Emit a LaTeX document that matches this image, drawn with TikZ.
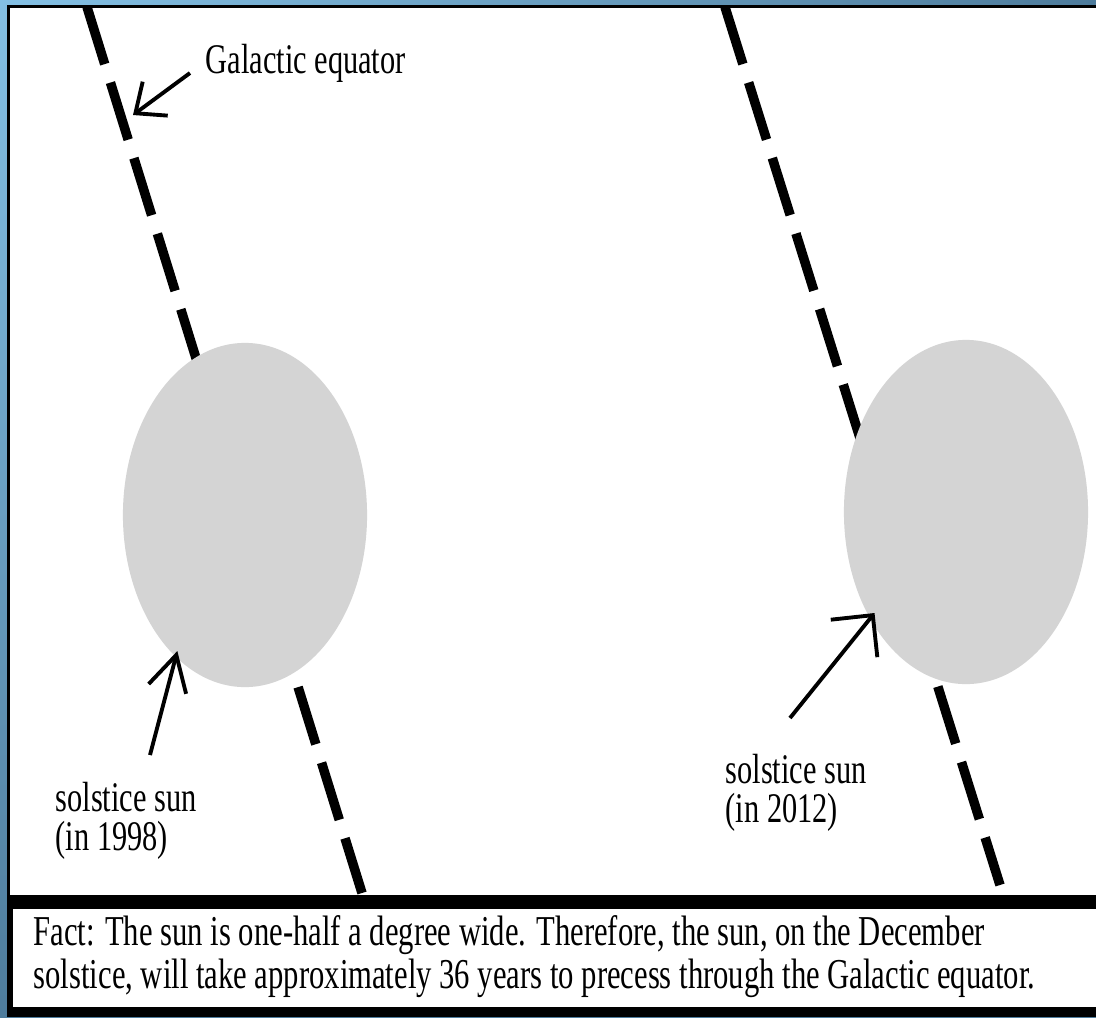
\documentclass[tikz,border=0pt]{standalone}
\usepackage{fontspec}
\setmainfont{Liberation Serif}[FakeStretch=0.72]
\usetikzlibrary{arrows.meta,shapes.geometric,shadings}

\definecolor{frameblue}{RGB}{132,192,228}
\definecolor{framedark}{RGB}{78,124,156}
\definecolor{sungray}{RGB}{212,212,212}

\begin{document}
\begin{tikzpicture}[x=0.01cm, y=-0.01cm,
		equator/.style={line width=2.7pt, dash pattern=on 17pt off 5.5pt},
		sun/.style={ellipse, fill=sungray, inner sep=0pt, outer sep=0pt, minimum width=2.44cm, minimum height=3.44cm},
		pointer/.style 2 args={line width=1.1pt, -{Straight Barb[length=#1, width=#2]}},
		sunlabel/.style={anchor=base west, inner sep=0pt, align=left, font=\fontsize{12}{11}\selectfont}]
		%%%%% START %%%%%
		
		% frame
		\shade[upper left=frameblue, upper right=framedark, lower left=framedark, lower right=framedark] (0, 0) rectangle (1096, 1017);
		\fill[black] (7, 5) rectangle (1096, 1017);
		\fill[white] (10, 8) rectangle (1096, 895);
		\fill[white] (13, 909) rectangle (1096, 1007);
		
		% galactic equator, two positions
		\coordinate (eqAtop) at (87, 7);
		\coordinate (eqAbot) at (362, 893);
		\coordinate (eqBtop) at (725, 7);
		\coordinate (eqBbot) at (1000, 885);
		\draw[equator] (eqAtop) -- (eqAbot);
		\draw[equator] (eqBtop) -- (eqBbot);
		
		% suns
		\node[sun] (sun98) at (245, 515) {};
		\node[sun] (sun12) at (966, 512) {};
		
		% labels (base = last line)
		\node[anchor=base west, inner sep=0pt, font=\fontsize{12}{11}\selectfont] (galabel) at (205, 73) {Galactic equator};
		\node[sunlabel] (lab98) at (55, 850) {solstice sun\\(in 1998)};
		\node[sunlabel] (lab12) at (725, 822) {solstice sun\\(in 2012)};
		
		% arrows
		\coordinate (eqmark) at (133, 115);
		\coordinate (tail98) at (150, 755);
		\coordinate (tail12) at (790, 718);
		\draw[pointer={7pt}{12pt}] ([xshift=-0.15cm]galabel.base west) -- (eqmark);
		\draw[pointer={10pt}{11pt}, shorten >=-1.7pt] (tail98) -- (sun98.244);
		\draw[pointer={8.5pt}{17pt}, shorten >=-2pt] (tail12) -- (sun12.228);
		
		% fact box
		\node[anchor=base west, inner sep=0pt, align=left, font=\fontsize{12.1}{12}\selectfont] (fact) at (33, 988) {Fact: The sun is one-half a degree wide. Therefore, the sun, on the December\\solstice, will take approximately 36 years to precess through the Galactic equator.};
		
		%%%%% END %%%%%
\end{tikzpicture}
\end{document}
